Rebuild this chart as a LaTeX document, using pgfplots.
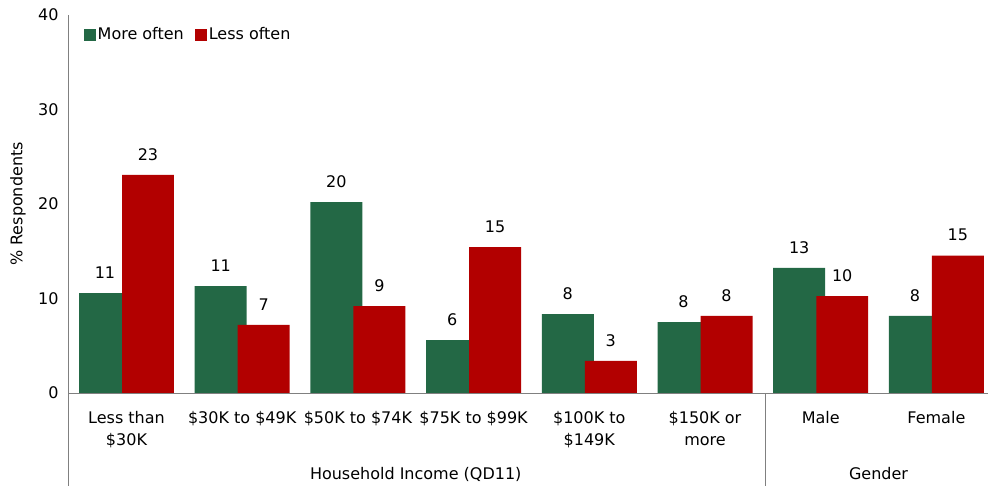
\documentclass[border=0pt]{standalone}
\usepackage{fontspec}
\setmainfont{DejaVu Sans}
\usepackage{pgfplots}
\pgfplotsset{compat=1.18}
\definecolor{moregreen}{RGB}{35,104,69}
\definecolor{lessred}{RGB}{178,0,0}
\definecolor{axisgray}{RGB}{128,128,128}

\begin{document}
\begin{tikzpicture}[font=\fontsize{16bp}{22bp}\selectfont]
\begin{axis}[
  scale only axis, width=920bp, height=378bp,
  xmin=-0.5056, xmax=7.446, ymin=0, ymax=40,
  axis line style={draw=none},
  clip=false,
  ytick={0,10,20,30,40}, xtick={0,...,7},
  xticklabels={{Less than\\\$30K},{\$30K to \$49K},{\$50K to \$74K},{\$75K to \$99K},{\$100K to\\\$149K},{\$150K or\\more},{Male},{Female}},
  major tick length=0,
  tick label style={font=\fontsize{16bp}{22bp}\selectfont},
  yticklabel style={xshift=-6bp},
  xticklabel style={align=center, yshift=-15bp},
  /pgf/number format/assume math mode=true,
  ylabel={\% Respondents},
  every axis y label/.style={at={(rel axis cs:0,0.5)}, xshift=-50bp, rotate=90, anchor=center},
  legend columns=2,
  legend style={at={(rel axis cs:0,1)}, anchor=north west, xshift=16bp, yshift=-11bp,
    draw=none, fill=none, inner sep=0pt, font=\fontsize{16bp}{22bp}\selectfont,
    nodes={inner sep=1.5bp},
    /tikz/every even column/.append style={column sep=10bp}},
  legend image code/.code={\fill[#1] (0bp,-6bp) rectangle (12bp,6bp);},
  nodes near coords={\pgfmathprintnumber[fixed,precision=0]{\pgfplotspointmeta}},
  every node near coord/.append style={font=\fontsize{16bp}{22bp}\selectfont, yshift=11bp},
]
\addplot[ybar, bar width=0.449, bar shift=-0.186, fill=moregreen, draw=none,
  every node near coord/.append style={xshift=-21.5bp}]
  coordinates {(0,10.58) (1,11.32) (2,20.2) (3,5.6) (4,8.36) (5,7.51) (6,13.23) (7,8.15)};
\addlegendentry{More often}
\addplot[ybar, bar width=0.449, bar shift=0.186, fill=lessred, draw=none,
  every node near coord/.append style={xshift=21.5bp}]
  coordinates {(0,23.07) (1,7.2) (2,9.2) (3,15.45) (4,3.39) (5,8.15) (6,10.26) (7,14.55)};
\addlegendentry{Less often}

\draw[axisgray, line width=1bp] (rel axis cs:0,1) -- ([yshift=-93bp]rel axis cs:0,0);
\draw[axisgray, line width=1bp] (rel axis cs:0,0) -- (rel axis cs:1,0);
\draw[axisgray, line width=1bp] (axis cs:5.52,0) -- ([yshift=-93bp]axis cs:5.52,0);
\node[anchor=center] at ([yshift=-81bp]axis cs:2.5,0) {Household Income (QD11)};
\node[anchor=center] at ([yshift=-81bp]axis cs:6.5,0) {Gender};
\coordinate (sw) at (rel axis cs:0,0);
\coordinate (ne) at (rel axis cs:1,1);
\end{axis}
\pgfresetboundingbox
\path[use as bounding box] ([shift={(-68bp,-93bp)}]sw) rectangle ([shift={(0bp,15bp)}]ne);
\end{tikzpicture}
\end{document}
